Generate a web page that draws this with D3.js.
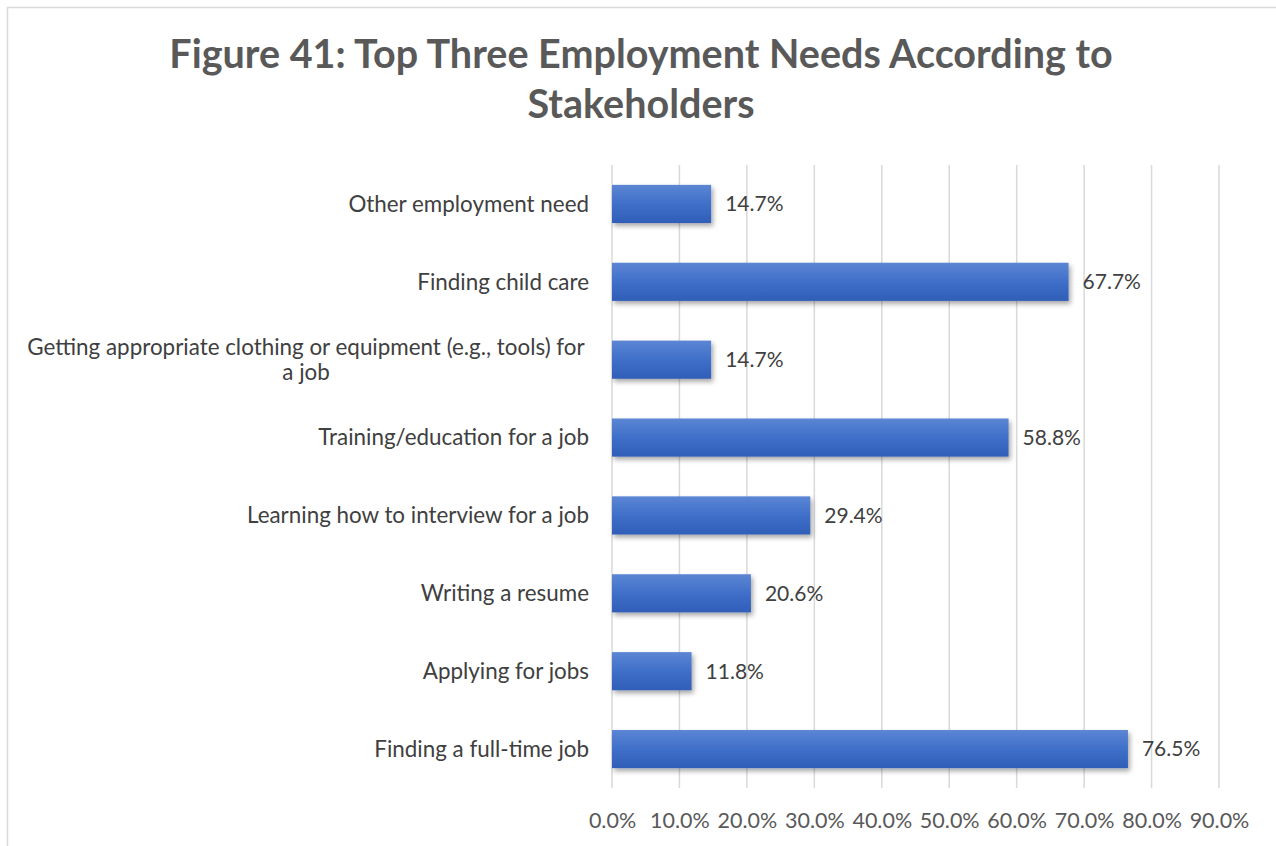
<!DOCTYPE html>
<html><head><meta charset="utf-8">
<script src="https://cdn.jsdelivr.net/npm/d3@7"></script>
<style>body{margin:0;background:#fff}svg{display:block}</style>
</head><body>
<script>
const categories = ["Other employment need","Finding child care","Getting appropriate clothing or equipment (e.g., tools) for|a job","Training/education for a job","Learning how to interview for a job","Writing a resume","Applying for jobs","Finding a full-time job"];
const values = [14.7,67.7,14.7,58.8,29.4,20.6,11.8,76.5];
const ticks = [0,10,20,30,40,50,60,70,80,90];
const titleLines = ["Figure 41: Top Three Employment Needs According to","Stakeholders"];

const W=1276,H=846;
const svg=d3.select("body").append("svg").attr("width",W).attr("height",H);
const defs=svg.append("defs");
const g=defs.append("linearGradient").attr("id","bg").attr("x1",0).attr("y1",0).attr("x2",0).attr("y2",1);
g.append("stop").attr("offset","0%").attr("stop-color","#5c86d4");
g.append("stop").attr("offset","50%").attr("stop-color","#3f6fc9");
g.append("stop").attr("offset","100%").attr("stop-color","#2f5eb7");
const f=defs.append("filter").attr("id","sh").attr("x","-10%").attr("y","-30%").attr("width","130%").attr("height","180%");
f.append("feDropShadow").attr("dx",2).attr("dy",3).attr("stdDeviation",2.5).attr("flood-color","#000").attr("flood-opacity",0.35);

svg.append("rect").attr("x",7.5).attr("y",7.5).attr("width",W).attr("height",H).attr("fill","#fff").attr("stroke","#d9d9d9").attr("stroke-width",1.5);

const font="Lato, 'Open Sans', sans-serif";
svg.append("g").selectAll("text").data(titleLines).join("text")
  .attr("x",641).attr("y",(d,i)=>68+i*50).attr("text-anchor","middle")
  .attr("font-family",font).attr("font-weight","bold").attr("font-size",39.5).attr("fill","#595959").text(d=>d);

const x=d3.scaleLinear().domain([0,90]).range([612,1219]);
const y=d3.scaleBand().domain(categories).range([165,788]).paddingInner(0.51).paddingOuter(0.255);

svg.append("g").selectAll("line").data(ticks).join("line")
  .attr("x1",d=>x(d)).attr("x2",d=>x(d)).attr("y1",165).attr("y2",788)
  .attr("stroke","#d9d9d9").attr("stroke-width",1.5);

const xa=svg.append("g").attr("transform","translate(0,788)")
  .call(d3.axisBottom(x).tickValues(ticks).tickFormat(d=>d.toFixed(1)+"%").tickSize(0).tickPadding(25));
xa.select(".domain").remove();
xa.selectAll("text").attr("font-family",font).attr("font-size",21.5).attr("fill","#595959");

svg.append("g").selectAll("rect").data(categories).join("rect")
  .attr("x",x(0)).attr("y",d=>y(d)).attr("width",(d,i)=>x(values[i])-x(0)).attr("height",y.bandwidth())
  .attr("fill","url(#bg)").attr("filter","url(#sh)");

svg.append("g").selectAll("text").data(categories).join("text")
  .attr("x",(d,i)=>x(values[i])+14).attr("y",d=>y(d)+y.bandwidth()/2).attr("dy","0.35em")
  .attr("font-family",font).attr("font-size",21).attr("fill","#404040").text((d,i)=>values[i].toFixed(1)+"%");

const lab=svg.append("g").selectAll("text").data(categories).join("text")
  .attr("text-anchor","middle").attr("font-family",font).attr("font-size",22.4).attr("fill","#404040");
lab.each(function(d){
  const lines=d.split("|");
  const t=d3.select(this);
  const cy=y(d)+y.bandwidth()/2;
  if(lines.length===1){
    t.attr("text-anchor","end").append("tspan").attr("x",589).attr("y",cy).attr("dy","0.35em").text(lines[0]);
  } else {
    lines.forEach((l,i)=>{
      t.append("tspan").attr("x",306).attr("y",cy+(i-(lines.length-1)/2)*25).attr("dy","0.35em").text(l);
    });
  }
});
</script>
</body></html>
